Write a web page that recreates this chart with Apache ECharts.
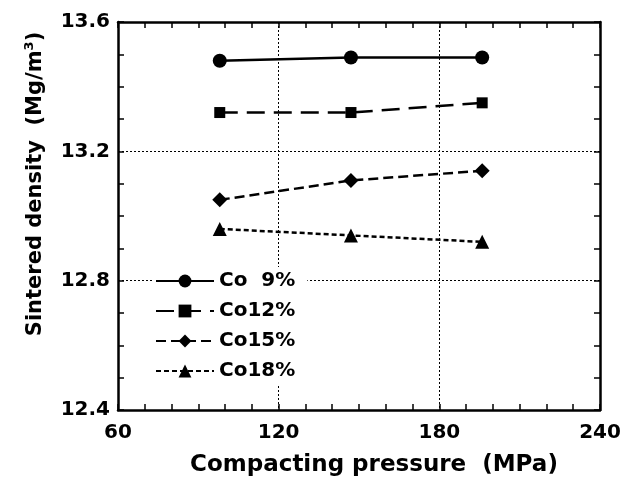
<!DOCTYPE html>
<html><head><meta charset="utf-8">
<script src="https://cdn.jsdelivr.net/npm/echarts@6/dist/echarts.min.js"></script>
<style>html,body{margin:0;padding:0;background:#fff}#c{width:637px;height:482px}</style>
</head><body><div id="c"></div>
<script>
const pressure = [98, 147, 196];
const co9 = [13.48, 13.49, 13.49];
const co12 = [13.32, 13.32, 13.35];
const co15 = [13.05, 13.11, 13.14];
const co18 = [12.96, 12.94, 12.92];
const seriesNames = ['Co  9%', 'Co12%', 'Co15%', 'Co18%'];
const xTicks = [60, 120, 180, 240];
const yTicks = [12.4, 12.8, 13.2, 13.6];

const F = 'DejaVu Sans, sans-serif';
const chart = echarts.init(document.getElementById('c'), null, {renderer: 'canvas'});
function pts(ys){ return pressure.map((x,i)=>[x, ys[i]]); }
const styles = [
  {sym:'circle', size:14, dash:'solid'},
  {sym:'rect', size:11, dash:[18,9]},
  {sym:'diamond', size:15, dash:[10,5]},
  {sym:'triangle', size:14, dash:[5,3]}
];
const datas = [co9, co12, co15, co18];
const axisLine = {show:true, lineStyle:{color:'#000', width:2.5}};
const axisTick = {show:true, inside:true, length:6, lineStyle:{color:'#000', width:1.5}};
const minorTick = (n)=>({show:true, splitNumber:n, length:6, lineStyle:{color:'#000', width:1.5}});
chart.setOption({
  animation:false,
  backgroundColor:'#fff',
  grid:{left:118, right:37, top:22, bottom:70, containLabel:false},
  legend:{
    orient:'vertical', left:153, top:267, itemWidth:58, itemHeight:16, itemGap:10,
    backgroundColor:'#fff', padding:[4,12,4,2],
    textStyle:{fontFamily:F, fontWeight:'bold', fontSize:20, color:'#000'},
    data: seriesNames
  },
  graphic:[{
    type:'text', x:36, y:184, rotation:Math.PI/2, z:10,
    style:{
      text:'{a|Sintered density  (Mg/m}{s|3}{a|)}',
      align:'center', verticalAlign:'middle',
      rich:{a:{fontFamily:F, fontWeight:'bold', fontSize:21, fill:'#000', color:'#000'},
            s:{fontFamily:F, fontWeight:'bold', fontSize:13, fill:'#000', color:'#000', verticalAlign:'top', padding:[0,0,12,0]}}
    }
  }],
  xAxis:[
    {type:'value', min:60, max:240, interval:60, position:'bottom',
      axisLine:axisLine, axisTick:axisTick, minorTick:minorTick(6),
      axisLabel:{color:'#000', fontFamily:F, fontWeight:'bold', fontSize:20, margin:13,
        formatter: v => xTicks.includes(v) ? String(v) : ''},
      splitLine:{show:true, lineStyle:{color:'#000', type:[2,2], width:1}},
      name:'Compacting pressure  (MPa)', nameLocation:'middle', nameGap:44,
      nameTextStyle:{color:'#000', fontFamily:F, fontWeight:'bold', fontSize:23, padding:[0,0,0,30]}
    },
    {type:'value', min:60, max:240, interval:60, position:'top',
      axisLine:axisLine, axisTick:axisTick, minorTick:minorTick(6),
      axisLabel:{show:false}, splitLine:{show:false}}
  ],
  yAxis:[
    {type:'value', min:12.4, max:13.6, interval:0.4, position:'left',
      axisLine:axisLine, axisTick:axisTick, minorTick:minorTick(4),
      axisLabel:{color:'#000', fontFamily:F, fontWeight:'bold', fontSize:20, margin:8,
        formatter: v => { const t = yTicks.find(k=>Math.abs(k-v)<1e-6); return t!==undefined ? t.toFixed(1) : ''; }},
      splitLine:{show:true, lineStyle:{color:'#000', type:[2,2], width:1}}
    },
    {type:'value', min:12.4, max:13.6, interval:0.4, position:'right',
      axisLine:axisLine, axisTick:axisTick, minorTick:minorTick(4),
      axisLabel:{show:false}, splitLine:{show:false}}
  ],
  series: datas.map((d,i)=>({
    name: seriesNames[i], type:'line', xAxisIndex:0, yAxisIndex:0,
    data: pts(d), symbol: styles[i].sym, symbolSize: styles[i].size,
    itemStyle:{color:'#000'},
    lineStyle:{color:'#000', width:2.5, type: styles[i].dash},
    z: 5
  }))
});
</script></body></html>
